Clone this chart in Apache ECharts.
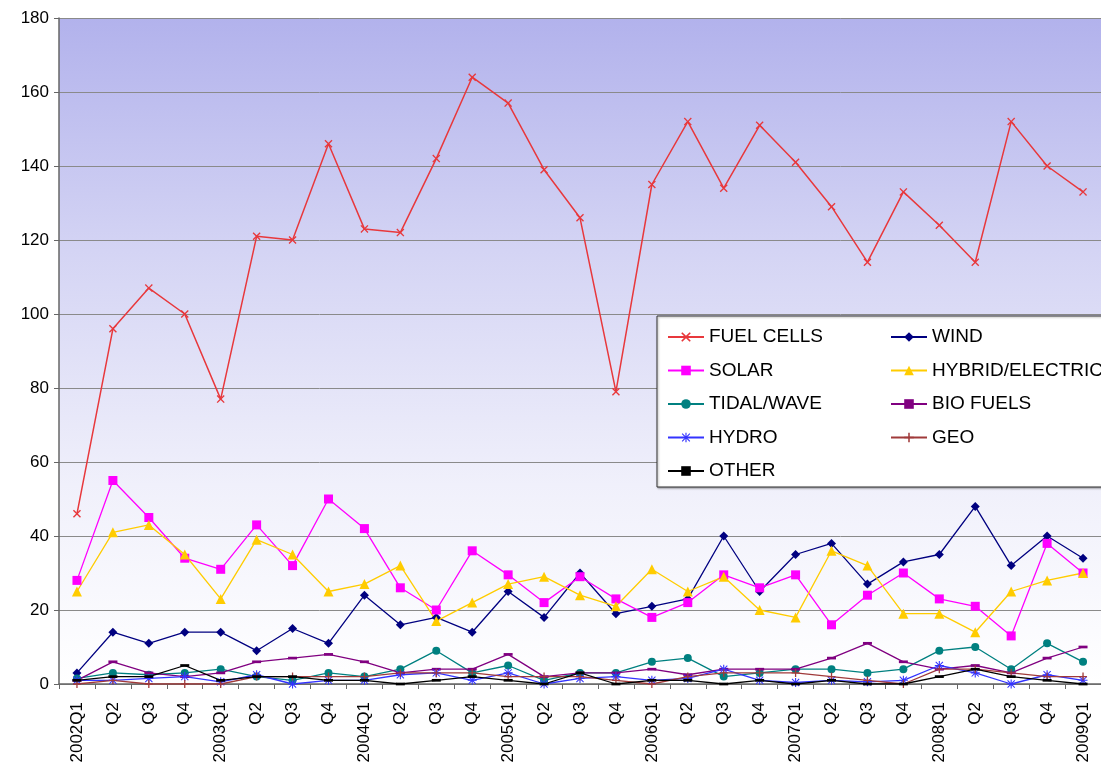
<!DOCTYPE html>
<html><head><meta charset="utf-8">
<script src="https://cdn.jsdelivr.net/npm/echarts@6/dist/echarts.min.js"></script>
<style>html,body{margin:0;padding:0;background:#fff}#c{width:1101px;height:770px}</style>
</head><body><div id="c"></div>
<script>
var categories = ['2002Q1','Q2','Q3','Q4','2003Q1','Q2','Q3','Q4','2004Q1','Q2','Q3','Q4','2005Q1','Q2','Q3','Q4','2006Q1','Q2','Q3','Q4','2007Q1','Q2','Q3','Q4','2008Q1','Q2','Q3','Q4','2009Q1'];
var fuelCells = [46,96,107,100,77,121,120,146,123,122,142,164,157,139,126,79,135,152,134,151,141,129,114,133,124,114,152,140,133];
var wind = [3,14,11,14,14,9,15,11,24,16,18,14,25,18,30,19,21,23,40,25,35,38,27,33,35,48,32,40,34];
var solar = [28,55,45,34,31,43,32,50,42,26,20,36,29.5,22,29,23,18,22,29.5,26,29.5,16,24,30,23,21,13,38,30];
var hybrid = [25,41,43,35,23,39,35,25,27,32,17,22,27,29,24,21,31,25,29,20,18,36,32,19,19,14,25,28,30];
var tidal = [1.5,3,2.5,3,4,2,1,3,2,4,9,3,5,1,3,3,6,7,2,3,4,4,3,4,9,10,4,11,6];
var bioFuels = [1,6,3,2,3,6,7,8,6,3,4,4,8,2,3,3,4,2.5,4,4,4,7,11,6,4,5,3,7,10];
var hydro = [1,1,1.5,2,0.6,2.5,0,1,1,2.5,3,1,3,0,1.5,2,1,1.5,4,1,0.4,1,0.6,1,5,3,0,2.5,1];
var geo = [0,1,0,0,0,2,2,2,2,3,3,3,2,2,2,1,0,2,3,3,3,2,1,0,4,4,3,2,2];
var other = [1,2,2,5,1,2,2,1,1,0,1,2,1,0,3,0,1,1,0,1,0,1,0,0,2,4,2,1,0];
var yTicks = [0,20,40,60,80,100,120,140,160,180];

var X_PATH = 'path://M0,1.2L1.2,0L5,3.8L8.8,0L10,1.2L6.2,5L10,8.8L8.8,10L5,6.2L1.2,10L0,8.8L3.8,5Z';
var PLUS_PATH = 'path://M4.2,0H5.8V4.2H10V5.8H5.8V10H4.2V5.8H0V4.2H4.2Z';
var STAR_PATH = 'path://M4.4,0H5.6V3.6L8.6,0.6L9.4,1.4L6.4,4.4H10V5.6H6.4L9.4,8.6L8.6,9.4L5.6,6.4V10H4.4V6.4L1.4,9.4L0.6,8.6L3.6,5.6H0V4.4H3.6L0.6,1.4L1.4,0.6L4.4,3.6Z';
var DASH_PATH = 'path://M0,3.5H10V6.5H0Z';

function S(name, data, color, symbol, size, lw) {
  return {name:name, type:'line', data:data, symbol:symbol, symbolSize:size,
    symbolKeepAspect:true,
    showAllSymbol:true, smooth:false,
    lineStyle:{color:color, width:lw||1.3},
    itemStyle:{color:color}, emphasis:{disabled:true}};
}
var series = [
  S('FUEL CELLS', fuelCells, '#e8383c', X_PATH, 8, 1.5),
  S('WIND', wind, '#000080', 'diamond', 9),
  S('SOLAR', solar, '#ff00ff', 'rect', 9),
  S('HYBRID/ELECTRIC', hybrid, '#ffcc00', 'triangle', 10),
  S('TIDAL/WAVE', tidal, '#008080', 'circle', 8),
  S('BIO FUELS', bioFuels, '#800080', DASH_PATH, 9),
  S('HYDRO', hydro, '#3333ff', STAR_PATH, 9),
  S('GEO', geo, '#a03a3a', PLUS_PATH, 8),
  S('OTHER', other, '#000000', DASH_PATH, 9)
];

var chart = echarts.init(document.getElementById('c'), null, {renderer:'canvas'});
var legendText = {fontFamily:'Arial, Liberation Sans, sans-serif', fontSize:19, color:'#000', lineHeight:20, padding:[0,0,0,0]};
chart.setOption({
  animation:false,
  backgroundColor:'#ffffff',
  grid:{left:59, right:-14, top:18, bottom:86, show:true, borderWidth:0,
    backgroundColor:{type:'linear', x:0, y:0, x2:0, y2:1, colorStops:[
      {offset:0, color:'#b2b2ec'},{offset:0.35, color:'#d4d4f4'},{offset:0.7, color:'#f0f0fb'},{offset:1, color:'#ffffff'}]}},
  graphic:[{type:'rect', shape:{x:657, y:316, width:460, height:171},
    style:{fill:'#ffffff', stroke:'#333', lineWidth:1, shadowBlur:2, shadowColor:'rgba(0,0,0,0.35)', shadowOffsetX:1, shadowOffsetY:1}, z:50}],
  legend:[
    {orient:'vertical', left:662, top:322, itemWidth:36, itemHeight:12, itemGap:13.5, z:60,
      textStyle:legendText, data:['FUEL CELLS','SOLAR','TIDAL/WAVE','HYDRO','OTHER']},
    {orient:'vertical', left:885, top:322, itemWidth:36, itemHeight:12, itemGap:13.5, z:60,
      textStyle:legendText, data:['WIND','HYBRID/ELECTRIC','BIO FUELS','GEO']}
  ],
  xAxis:{type:'category', data:categories, boundaryGap:true,
    axisLine:{lineStyle:{color:'#666', width:1.5}},
    axisTick:{show:true, lineStyle:{color:'#666'}, length:5},
    axisLabel:{rotate:90, interval:0, fontFamily:'Arial, Liberation Sans, sans-serif', fontSize:17, color:'#000', margin:18}},
  yAxis:{type:'value', min:0, max:180, interval:20,
    axisLine:{show:true, lineStyle:{color:'#666', width:1.5}},
    axisTick:{show:true, lineStyle:{color:'#666'}, length:5},
    axisLabel:{fontFamily:'Arial, Liberation Sans, sans-serif', fontSize:17, color:'#000', margin:10,
      formatter:function(v){return yTicks.indexOf(v)>=0 ? String(v) : '';}},
    splitLine:{lineStyle:{color:'#8a8a8a', width:1}}},
  series:series
});
</script></body></html>
